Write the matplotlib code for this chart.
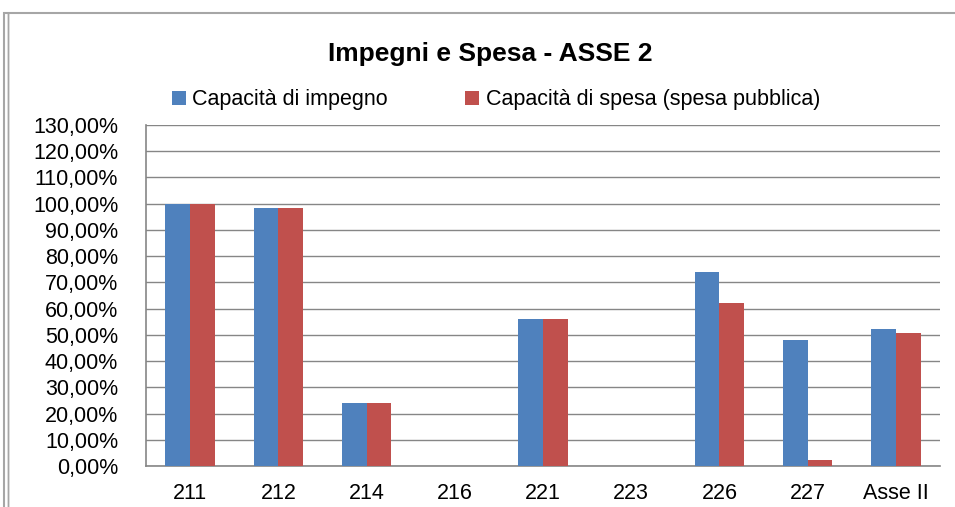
import matplotlib
matplotlib.use("Agg")
import matplotlib.pyplot as plt
from matplotlib.ticker import FuncFormatter, MultipleLocator
from matplotlib.patches import Rectangle
import numpy as np

# =============================================
# DATA
# =============================================
categorie = ["211", "212", "214", "216", "221", "223", "226", "227", "Asse II"]
cap_impegno = [100.0, 98.5, 24.0, 0.0, 56.2, 0.0, 74.0, 48.0, 52.4]
cap_spesa = [100.0, 98.5, 24.0, 0.0, 56.2, 0.0, 62.1, 2.1, 50.8]
serie_nomi = ["Capacità di impegno", "Capacità di spesa (spesa pubblica)"]

plt.rcParams['font.family'] = ['Liberation Sans', 'DejaVu Sans']

# =============================================
# FIGURA
# =============================================
fig = plt.figure(figsize=(9.55, 5.07), dpi=100)
ax = fig.add_axes([146/955, 1-466/507, (940-146)/955, (466-125)/507])

# bordo esterno del grafico (doppia linea a sinistra)
fig.patches.append(Rectangle((4/955, -0.2), 1.2, 1.2 - 13/507,
                             transform=fig.transFigure, fill=False,
                             edgecolor='#a6a6a6', linewidth=1.5))
fig.patches.append(Rectangle((8/955, -0.2), 0.0, 1.2 - 13/507,
                             transform=fig.transFigure, fill=False,
                             edgecolor='#a6a6a6', linewidth=1.0))

x = np.arange(len(categorie))
w = 0.28
ax.bar(x - w/2, cap_impegno, w, color='#4F81BD', label=serie_nomi[0], zorder=3)
ax.bar(x + w/2, cap_spesa, w, color='#C0504D', label=serie_nomi[1], zorder=3)

ax.set_xlim(-0.5, len(categorie) - 0.5)
ax.set_ylim(0, 130)
ax.yaxis.set_major_locator(MultipleLocator(10))
ax.yaxis.set_major_formatter(FuncFormatter(lambda v, p: f"{v:.2f}".replace('.', ',') + '%'))
ax.set_xticks(x)
ax.set_xticklabels(categorie)

ax.grid(axis='y', color='#868686', linewidth=1.0, zorder=0)
ax.set_axisbelow(True)
for s in ['top', 'right']:
    ax.spines[s].set_visible(False)
for s in ['left', 'bottom']:
    ax.spines[s].set_color('#868686')
    ax.spines[s].set_linewidth(1.2)

ax.tick_params(axis='y', length=0, pad=20, labelsize=15.5)
ax.tick_params(axis='x', length=0, pad=12, labelsize=15.5)

fig.text(490/955, 1-54/507, "Impegni e Spesa - ASSE 2", ha='center', va='center',
         fontsize=19, fontweight='bold')

fig.legend(loc='center', bbox_to_anchor=(496/955, 1-100/507), ncol=2, frameon=False,
           fontsize=15.5, handlelength=0.65, handleheight=0.65, handletextpad=0.3,
           columnspacing=3.6)

fig.savefig("out.png", dpi=100)
